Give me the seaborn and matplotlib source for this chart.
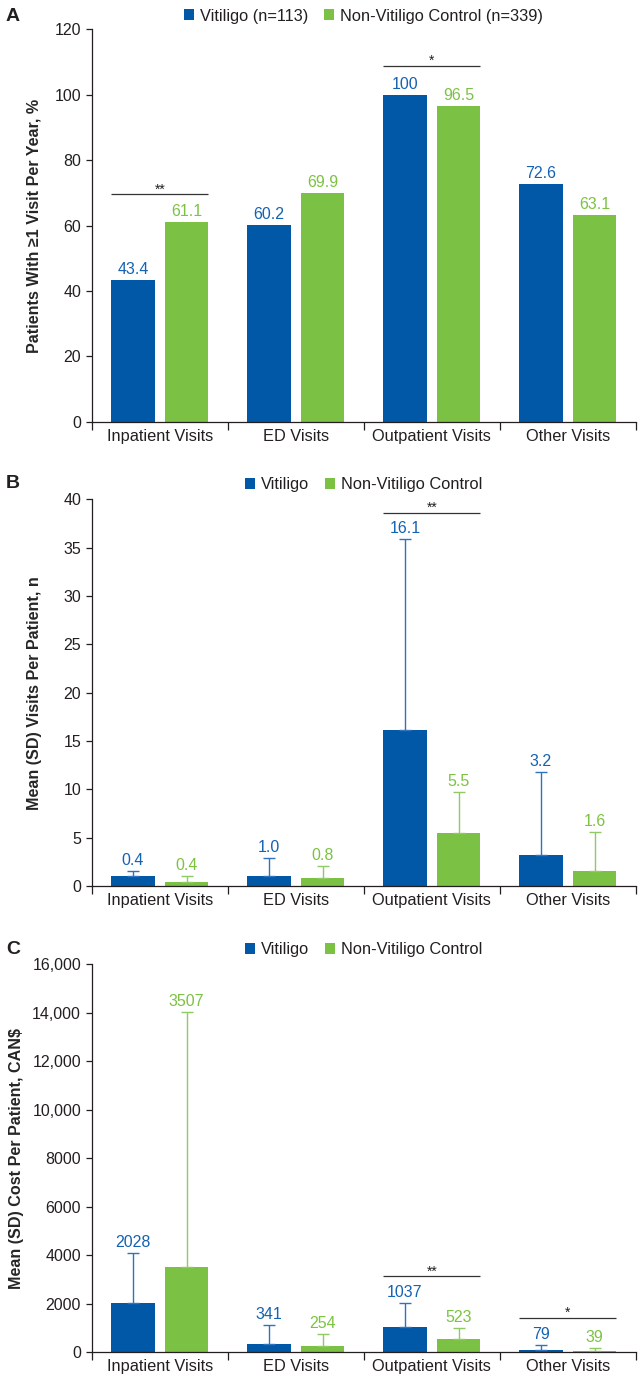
import matplotlib
matplotlib.use("Agg")
import matplotlib.pyplot as plt
import pandas as pd
import seaborn as sns

# ---- data -------------------------------------------------------------
categories = ["Inpatient Visits", "ED Visits", "Outpatient Visits", "Other Visits"]
groups = ["Vitiligo", "Non-Vitiligo Control"]

# A: patients with >=1 visit per year, %
a_vit = [43.4, 60.2, 100, 72.6]
a_ctrl = [61.1, 69.9, 96.5, 63.1]
a_vit_lab = ["43.4", "60.2", "100", "72.6"]
a_ctrl_lab = ["61.1", "69.9", "96.5", "63.1"]
a_legend = ["Vitiligo (n=113)", "Non-Vitiligo Control (n=339)"]
a_sig = [(0, 69.5, "**"), (2, 108.9, "*")]

# B: mean (SD) visits per patient (bar heights as drawn in the figure)
b_vit = [1.0, 1.0, 16.1, 3.2]
b_ctrl = [0.45, 0.8, 5.5, 1.6]
b_vit_sd = [0.6, 1.9, 19.75, 8.6]
b_ctrl_sd = [0.6, 1.3, 4.2, 3.95]
b_vit_lab = ["0.4", "1.0", "16.1", "3.2"]
b_ctrl_lab = ["0.4", "0.8", "5.5", "1.6"]
b_sig = [(2, 38.6, "**")]

# C: mean (SD) cost per patient, CAN$
c_vit = [2028, 341, 1037, 79]
c_ctrl = [3507, 254, 523, 39]
c_vit_sd = [2040, 775, 972, 225]
c_ctrl_sd = [10530, 480, 456, 118]
c_vit_lab = ["2028", "341", "1037", "79"]
c_ctrl_lab = ["3507", "254", "523", "39"]
c_sig = [(2, 3134, "**"), (3, 1414, "*")]
c_yticks = [0, 2000, 4000, 6000, 8000, 10000, 12000, 14000, 16000]
c_yticklabels = ["0", "2000", "4000", "6000", "8000", "10,000", "12,000", "14,000", "16,000"]

legend_plain = ["Vitiligo", "Non-Vitiligo Control"]

# ---- style ------------------------------------------------------------
BLUE = "#0058a6"
GREEN = "#7bc143"
BLUE_TXT = "#1462b2"
GREEN_TXT = "#7cc242"
BLUE_ERR = "#2f72bd"
GREEN_ERR = "#8fcb62"
INK = "#231f20"

sns.set_theme(style="ticks")
plt.rcParams["font.family"] = ["Liberation Sans", "DejaVu Sans"]
plt.rcParams["axes.edgecolor"] = INK
plt.rcParams["xtick.color"] = INK
plt.rcParams["ytick.color"] = INK
plt.rcParams["text.color"] = INK

fig = plt.figure(figsize=(6.41, 13.84), dpi=100)
ax_a = fig.add_axes([0.1431, 0.6953, 0.8487, 0.2835])
ax_b = fig.add_axes([0.1431, 0.3598, 0.8487, 0.2794])
ax_c = fig.add_axes([0.1431, 0.0231, 0.8487, 0.2803])


def draw_panel(ax, vit, ctrl, vit_lab, ctrl_lab, vit_sd, ctrl_sd, sig,
               ylim, yticks, yticklabels, ylabel, ylabel_x, legend_labels, legend_y):
    df = pd.DataFrame({
        "category": categories * 2,
        "group": [groups[0]] * len(categories) + [groups[1]] * len(categories),
        "value": list(vit) + list(ctrl),
    })
    sns.barplot(data=df, x="category", y="value", hue="group", order=categories,
                hue_order=groups, palette=[BLUE, GREEN], saturation=1,
                width=0.79, gap=0.19, errorbar=None, linewidth=0, ax=ax)
    bars = list(ax.containers[:2])

    sds = [vit_sd, ctrl_sd]
    labs = [vit_lab, ctrl_lab]
    ecols = [BLUE_ERR, GREEN_ERR]
    tcols = [BLUE_TXT, GREEN_TXT]
    for k, cont in enumerate(bars):
        xs = [p.get_x() + p.get_width() / 2 for p in cont]
        hs = [p.get_height() for p in cont]
        if sds[k] is not None:
            ax.errorbar(xs, hs, yerr=[[0] * len(hs), sds[k]], fmt="none",
                        ecolor=ecols[k], elinewidth=1.0, capsize=4, capthick=1.0)
            tops = [h + s for h, s in zip(hs, sds[k])]
        else:
            tops = hs
        for x, t, lab in zip(xs, tops, labs[k]):
            ax.annotate(lab, (x, t), xytext=(0, 4.3), textcoords="offset points",
                        ha="center", va="baseline", fontsize=11.5, color=tcols[k])

    for idx, y, stars in sig:
        p0 = bars[0][idx]
        p1 = bars[1][idx]
        x0 = p0.get_x()
        x1 = p1.get_x() + p1.get_width()
        ax.plot([x0, x1], [y, y], color="#333333", lw=0.9, solid_capstyle="butt")
        ax.annotate(stars, ((x0 + x1) / 2, y), xytext=(0, 0.5), textcoords="offset points",
                    ha="center", va="baseline", fontsize=10, color=INK)

    ax.set_xlim(-0.5, len(categories) - 0.5)
    ax.set_ylim(*ylim)
    ax.set_yticks(yticks)
    ax.set_yticklabels(yticklabels)
    ax.set_xticks([i - 0.5 for i in range(len(categories) + 1)])
    ax.set_xticklabels([])
    ax.set_xticks(range(len(categories)), minor=True)
    ax.set_xticklabels(categories, minor=True)
    ax.tick_params(axis="x", which="major", length=5.5, width=0.9, direction="out")
    ax.tick_params(axis="x", which="minor", length=0, pad=5, labelsize=11.8)
    ax.tick_params(axis="y", length=4.2, width=0.9, pad=3.5, labelsize=11.5)
    ax.set_xlabel("")
    ax.set_ylabel(ylabel, fontsize=11.6, fontweight="bold")
    ax.yaxis.set_label_coords(ylabel_x, 0.5)
    sns.despine(ax=ax)
    for s in ["left", "bottom"]:
        ax.spines[s].set_linewidth(0.9)

    handles = [bars[0][0], bars[1][0]]
    ax.legend(handles, legend_labels, loc="center", bbox_to_anchor=(0.567, legend_y),
              bbox_transform=fig.transFigure, ncol=2, frameon=False, fontsize=11.8,
              handlelength=0.62, handleheight=0.62, handletextpad=0.35,
              columnspacing=1.0, borderpad=0, borderaxespad=0)


draw_panel(ax_a, a_vit, a_ctrl, a_vit_lab, a_ctrl_lab, None, None, a_sig,
           (0, 120), list(range(0, 121, 20)), [str(v) for v in range(0, 121, 20)],
           "Patients With \u22651 Visit Per Year, %", -0.092, a_legend, 0.9884)
draw_panel(ax_b, b_vit, b_ctrl, b_vit_lab, b_ctrl_lab, b_vit_sd, b_ctrl_sd, b_sig,
           (0, 40), list(range(0, 41, 5)), [str(v) for v in range(0, 41, 5)],
           "Mean (SD) Visits Per Patient, n", -0.092, legend_plain, 0.6496)
draw_panel(ax_c, c_vit, c_ctrl, c_vit_lab, c_ctrl_lab, c_vit_sd, c_ctrl_sd, c_sig,
           (0, 16000), c_yticks, c_yticklabels,
           "Mean (SD) Cost Per Patient, CAN\\$", -0.124, legend_plain, 0.3136)

for letter, y in [("A", 0.9884), ("B", 0.651), ("C", 0.3136)]:
    fig.text(0.009, y, letter, fontsize=14, fontweight="bold", ha="left", va="center")

fig.savefig("out.png", dpi=100)
